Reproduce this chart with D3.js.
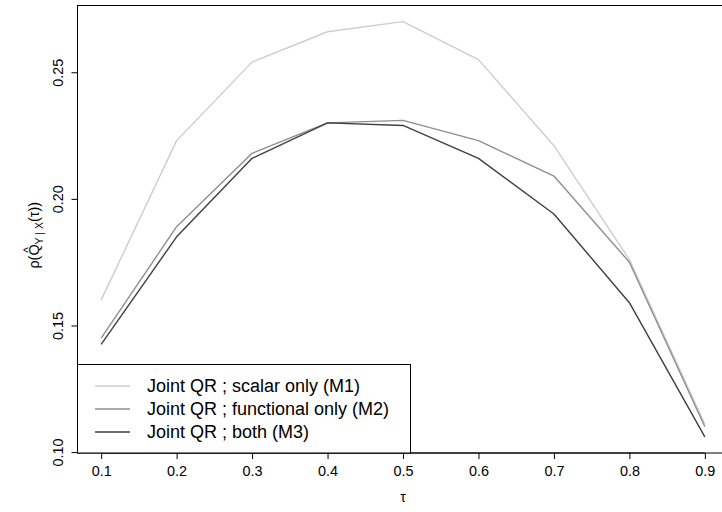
<!DOCTYPE html>
<html>
<head>
<meta charset="utf-8">
<script src="https://cdn.jsdelivr.net/npm/d3@7"></script>
<style>
  html, body { margin: 0; padding: 0; background: #fff; }
  svg { display: block; font-family: "Liberation Sans", Arial, Helvetica, sans-serif; }
</style>
</head>
<body>
<svg id="chart" width="722" height="512"></svg>
<script>
// ---- data ----
const tau = [0.1, 0.2, 0.3, 0.4, 0.5, 0.6, 0.7, 0.8, 0.9];
const m1 = [0.160, 0.223, 0.254, 0.266, 0.270, 0.255, 0.221, 0.176, 0.111];
const m2 = [0.145, 0.189, 0.218, 0.230, 0.231, 0.223, 0.209, 0.175, 0.110];
const m3 = [0.1425, 0.185, 0.216, 0.230, 0.229, 0.216, 0.194, 0.159, 0.106];
const seriesNames = ["Joint QR ; scalar only (M1)", "Joint QR ; functional only (M2)", "Joint QR ; both (M3)"];
const seriesColors = ["#cdcdcd", "#8e8e8e", "#3f3f3f"];
const xTicks = [0.1, 0.2, 0.3, 0.4, 0.5, 0.6, 0.7, 0.8, 0.9];
const yTicks = [0.10, 0.15, 0.20, 0.25];

// ---- layout ----
const pL = 77, pR = 729, pT = 5, pB = 453.5;
const svg = d3.select("#chart");

// R-style 4% extension of data range
const yAll = m1.concat(m2, m3);
const ymin = d3.min(yAll), ymax = d3.max(yAll);
const yr = ymax - ymin;
const x = d3.scaleLinear().domain([0.1 - 0.032, 0.9 + 0.032]).range([pL, pR]);
const y = d3.scaleLinear().domain([ymin - 0.04 * yr, ymax + 0.04 * yr]).range([pB, pT]);

const series = [m1, m2, m3];
const line = d3.line().x((d, i) => x(tau[i])).y(d => y(d));

// lines
series.forEach((s, k) => {
  svg.append("path")
    .datum(s)
    .attr("d", line)
    .attr("fill", "none")
    .attr("stroke", seriesColors[k])
    .attr("stroke-width", 1.4)
    .attr("stroke-linejoin", "round");
});

// box
svg.append("rect")
  .attr("x", pL + 0.5).attr("y", pT + 0.5)
  .attr("width", pR - pL).attr("height", pB - pT - 1)
  .attr("fill", "none").attr("stroke", "#000").attr("stroke-width", 1);

// x axis
const xAxis = d3.axisBottom(x).tickValues(xTicks).tickFormat(d3.format(".1f")).tickSize(6).tickPadding(7);
const gx = svg.append("g").attr("transform", `translate(0,${pB - 0.5})`).call(xAxis);
gx.select(".domain").attr("d", `M${x(0.1)},0H${x(0.9)}`);
gx.selectAll("text").attr("font-size", 14.4).attr("font-family", "Liberation Sans, Arial, sans-serif").attr("fill", "#000");

// y axis
const yAxis = d3.axisLeft(y).tickValues(yTicks).tickFormat(d3.format(".2f")).tickSize(6);
const gy = svg.append("g").attr("transform", `translate(${pL + 0.5},0)`).call(yAxis);
gy.select(".domain").attr("d", `M0,${y(0.10)}V${y(0.25)}`);
gy.selectAll("text")
  .attr("font-size", 14.4).attr("font-family", "Liberation Sans, Arial, sans-serif").attr("fill", "#000")
  .attr("x", null).attr("dy", null)
  .attr("text-anchor", "middle")
  .attr("transform", "translate(-15,0) rotate(-90)");

// x title
svg.append("text")
  .attr("x", x(0.5)).attr("y", 502)
  .attr("text-anchor", "middle")
  .attr("font-size", 14.4)
  .text("τ");

// y title: ρ(Q̂_{Y|X}(τ))
const yt = svg.append("g").attr("transform", `translate(39,${(pT + pB) / 2 + 6}) rotate(-90)`);
const ytext = yt.append("text").attr("text-anchor", "middle").attr("font-size", 14.4);
ytext.append("tspan").text("ρ(");
ytext.append("tspan").text("Q");
ytext.append("tspan").attr("font-size", 10.5).attr("dy", 4).text("Y | X");
ytext.append("tspan").attr("dy", -4).text("(τ))");
// hat over Q
const qIndex = 2;
const qExt = ytext.node().getExtentOfChar(qIndex);
yt.append("text")
  .attr("x", qExt.x + qExt.width / 2)
  .attr("y", qExt.y + 6)
  .attr("text-anchor", "middle")
  .attr("font-size", 12)
  .text("^");

// legend
const lg = svg.append("g");
lg.append("rect")
  .attr("x", pL + 0.5).attr("y", 364.5)
  .attr("width", 410 - pL).attr("height", pB - 364.5 - 0.5)
  .attr("fill", "#fff").attr("stroke", "#000").attr("stroke-width", 1);
const rowY = [386, 409, 432];
seriesNames.forEach((name, k) => {
  lg.append("line")
    .attr("x1", 95).attr("x2", 130)
    .attr("y1", rowY[k]).attr("y2", rowY[k])
    .attr("stroke", seriesColors[k]).attr("stroke-width", 1.4);
  lg.append("text")
    .attr("x", 147).attr("y", rowY[k])
    .attr("dy", "0.35em")
    .attr("font-size", 18)
    .text(name);
});
</script>
</body>
</html>
